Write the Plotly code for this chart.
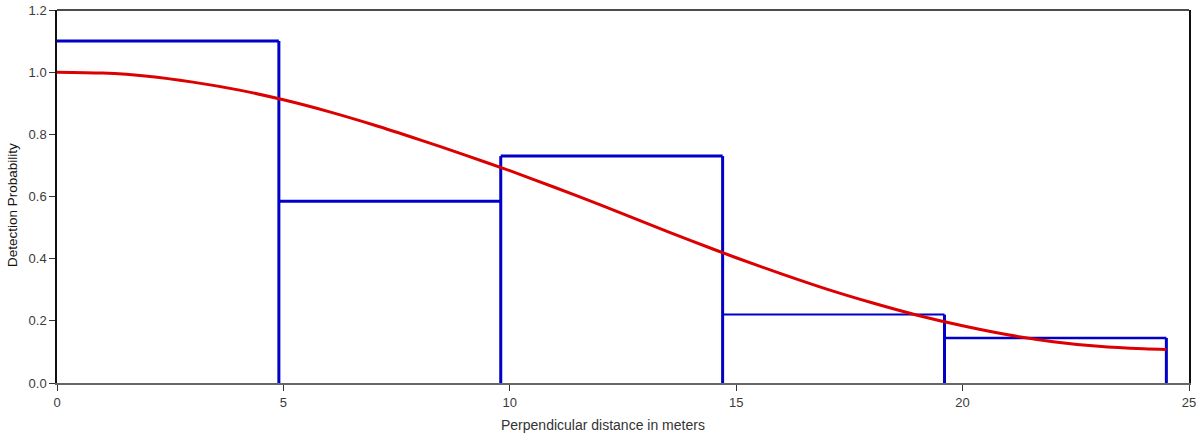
import plotly.graph_objects as go

# Histogram bins (perpendicular distance, m) and scaled heights
bin_edges = [0, 4.9, 9.8, 14.7, 19.6, 24.5]
bin_heights = [1.10, 0.585, 0.73, 0.22, 0.145]

# Fitted detection function
curve_x = [0, 1, 2, 3, 4, 5, 6, 7, 8, 9, 10, 11, 12, 13, 14, 15, 16, 17, 18, 19, 20, 21, 22, 23, 24, 24.5]
curve_y = [1.000, 0.997, 0.987, 0.968, 0.943, 0.911, 0.873, 0.830, 0.783, 0.734, 0.683, 0.629, 0.573,
           0.515, 0.458, 0.403, 0.351, 0.302, 0.258, 0.218, 0.184, 0.155, 0.133, 0.118, 0.110, 0.108]

x_ticks = [0, 5, 10, 15, 20, 25]
y_ticks = [0.0, 0.2, 0.4, 0.6, 0.8, 1.0, 1.2]

BLUE = "#0000c8"
top_widths = [3, 3, 3, 2, 2.5]

fig = go.Figure()
# top edges of each bar
for i, h in enumerate(bin_heights):
    fig.add_trace(go.Scatter(
        x=[bin_edges[i], bin_edges[i + 1]], y=[h, h],
        mode="lines", line=dict(color=BLUE, width=top_widths[i]),
        hoverinfo="skip", showlegend=False))
# vertical edges (skip the one on the y axis), spanning the taller neighbour
vx, vy = [], []
for j in range(1, len(bin_edges)):
    left_h = bin_heights[j - 1]
    right_h = bin_heights[j] if j < len(bin_heights) else 0
    vx += [bin_edges[j], bin_edges[j], None]
    vy += [0, max(left_h, right_h), None]
fig.add_trace(go.Scatter(x=vx, y=vy, mode="lines", line=dict(color=BLUE, width=3),
                         hoverinfo="skip", showlegend=False))

fig.add_trace(go.Scatter(
    x=curve_x, y=curve_y, mode="lines", line=dict(color="#dd0000", width=3, shape="spline", smoothing=0.8),
    showlegend=False))

font_family = "Liberation Sans, Arial, sans-serif"
tick_font = dict(family=font_family, size=13, color="#3a3a3a")
fig.update_layout(
    width=1204, height=438,
    margin=dict(l=57, r=15, t=10, b=55),
    paper_bgcolor="white", plot_bgcolor="white",
    font=dict(family=font_family, size=13, color="#3a3a3a"),
    xaxis=dict(range=[0, 25], tickvals=x_ticks, ticktext=[str(v) for v in x_ticks], tickfont=tick_font,
               showgrid=False, zeroline=False, showline=True, linecolor="#666666", linewidth=2,
               ticks="outside", ticklen=6, tickcolor="#333333", automargin=False),
    yaxis=dict(range=[0, 1.2], tickvals=y_ticks, ticktext=[f"{v:.1f}" for v in y_ticks], tickfont=tick_font,
               showgrid=False, zeroline=False, showline=True, linecolor="#111111", linewidth=1.5,
               mirror=True, ticks="outside", ticklen=6, tickcolor="#333333", automargin=False),
    shapes=[dict(type="line", xref="paper", yref="paper", x0=0, x1=1, y0=1, y1=1,
                 line=dict(color="#111111", width=1.5))],
    annotations=[
        dict(text="Perpendicular distance in meters", xref="paper", yref="paper",
             x=(603 - 57) / 1132, y=-42 / 373, xanchor="center", yanchor="middle",
             showarrow=False, font=dict(size=14, color="#333333")),
        dict(text="Detection Probability", xref="paper", yref="paper",
             x=-45 / 1132, y=(383 - 205) / 373, xanchor="center", yanchor="middle", textangle=-90,
             showarrow=False, font=dict(size=13.5, color="#111111")),
    ],
)

fig.write_html("out.html")
